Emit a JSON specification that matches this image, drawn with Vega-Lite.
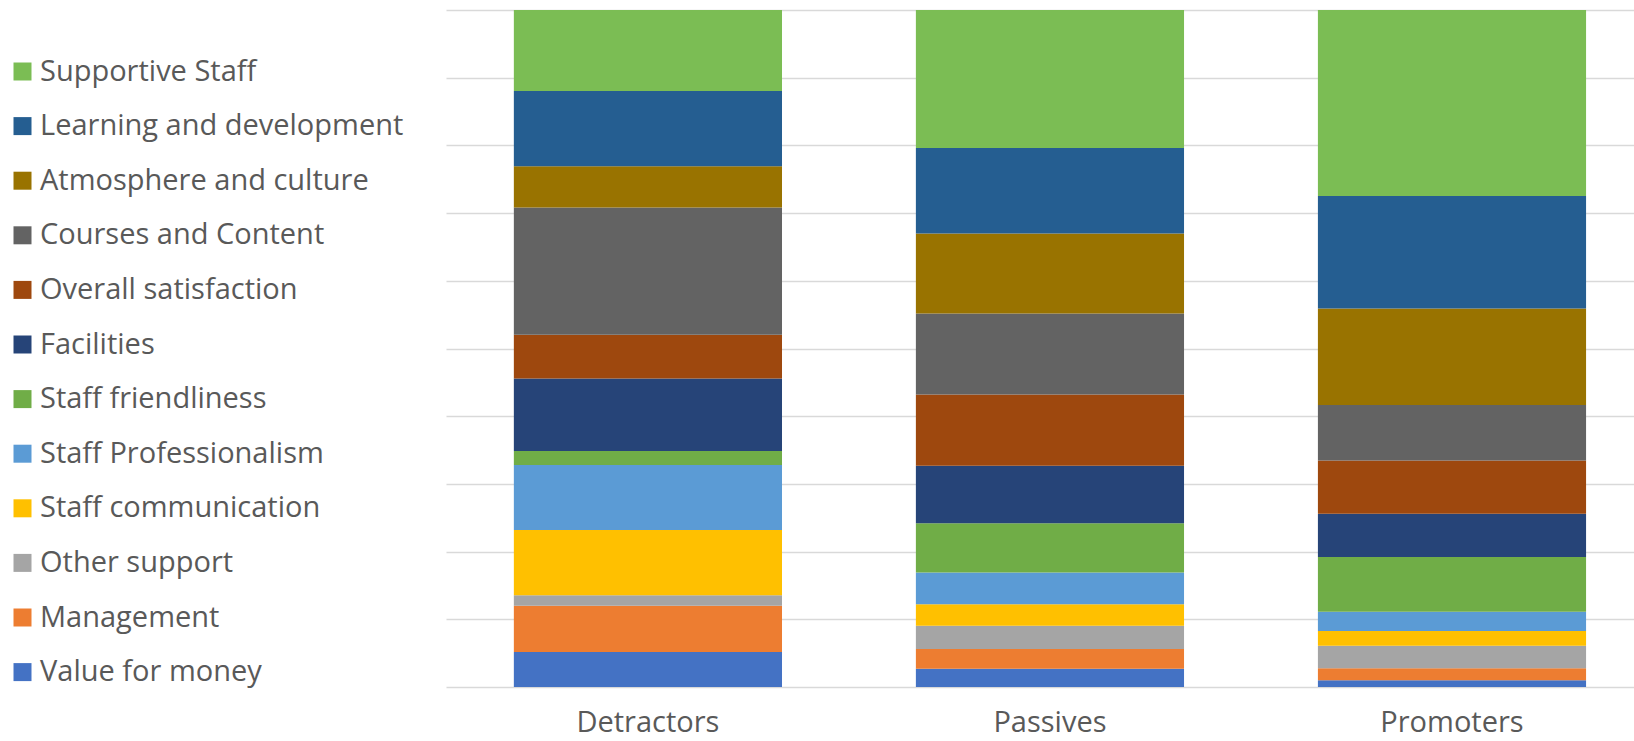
{
  "$schema": "https://vega.github.io/schema/vega-lite/v6.json",
  "width": 1188,
  "height": 677,
  "autosize": {"type": "none"},
  "padding": {"left": 446, "top": 10, "right": 0, "bottom": 54},
  "background": "white",
  "config": {
    "view": {"stroke": null},
    "font": "Open Sans",
    "axis": {"labelColor": "#595959", "labelFont": "Open Sans"},
    "legend": {"labelColor": "#595959", "labelFont": "Open Sans"}
  },
  "data": {
    "values": [
      {"group": "Detractors", "category": "Value for money", "idx": 1, "pct": 5.17},
      {"group": "Detractors", "category": "Management", "idx": 2, "pct": 6.83},
      {"group": "Detractors", "category": "Other support", "idx": 3, "pct": 1.54},
      {"group": "Detractors", "category": "Staff communication", "idx": 4, "pct": 9.64},
      {"group": "Detractors", "category": "Staff Professionalism", "idx": 5, "pct": 9.6},
      {"group": "Detractors", "category": "Staff friendliness", "idx": 6, "pct": 2.07},
      {"group": "Detractors", "category": "Facilities", "idx": 7, "pct": 10.73},
      {"group": "Detractors", "category": "Overall satisfaction", "idx": 8, "pct": 6.44},
      {"group": "Detractors", "category": "Courses and Content", "idx": 9, "pct": 18.81},
      {"group": "Detractors", "category": "Atmosphere and culture", "idx": 10, "pct": 6.1},
      {"group": "Detractors", "category": "Learning and development", "idx": 11, "pct": 11.12},
      {"group": "Detractors", "category": "Supportive Staff", "idx": 12, "pct": 11.95},
      {"group": "Passives", "category": "Value for money", "idx": 1, "pct": 2.7},
      {"group": "Passives", "category": "Management", "idx": 2, "pct": 2.91},
      {"group": "Passives", "category": "Other support", "idx": 3, "pct": 3.44},
      {"group": "Passives", "category": "Staff communication", "idx": 4, "pct": 3.16},
      {"group": "Passives", "category": "Staff Professionalism", "idx": 5, "pct": 4.72},
      {"group": "Passives", "category": "Staff friendliness", "idx": 6, "pct": 7.24},
      {"group": "Passives", "category": "Facilities", "idx": 7, "pct": 8.5},
      {"group": "Passives", "category": "Overall satisfaction", "idx": 8, "pct": 10.55},
      {"group": "Passives", "category": "Courses and Content", "idx": 9, "pct": 11.95},
      {"group": "Passives", "category": "Atmosphere and culture", "idx": 10, "pct": 11.82},
      {"group": "Passives", "category": "Learning and development", "idx": 11, "pct": 12.64},
      {"group": "Passives", "category": "Supportive Staff", "idx": 12, "pct": 20.37},
      {"group": "Promoters", "category": "Value for money", "idx": 1, "pct": 0.99},
      {"group": "Promoters", "category": "Management", "idx": 2, "pct": 1.77},
      {"group": "Promoters", "category": "Other support", "idx": 3, "pct": 3.34},
      {"group": "Promoters", "category": "Staff communication", "idx": 4, "pct": 2.17},
      {"group": "Promoters", "category": "Staff Professionalism", "idx": 5, "pct": 2.85},
      {"group": "Promoters", "category": "Staff friendliness", "idx": 6, "pct": 8.07},
      {"group": "Promoters", "category": "Facilities", "idx": 7, "pct": 6.4},
      {"group": "Promoters", "category": "Overall satisfaction", "idx": 8, "pct": 7.88},
      {"group": "Promoters", "category": "Courses and Content", "idx": 9, "pct": 8.17},
      {"group": "Promoters", "category": "Atmosphere and culture", "idx": 10, "pct": 14.27},
      {"group": "Promoters", "category": "Learning and development", "idx": 11, "pct": 16.63},
      {"group": "Promoters", "category": "Supportive Staff", "idx": 12, "pct": 27.46}
    ]
  },
  "mark": {"type": "bar"},
  "encoding": {
    "x": {
      "field": "group",
      "type": "nominal",
      "sort": ["Detractors", "Passives", "Promoters"],
      "scale": {"paddingInner": 0.333, "paddingOuter": 0.144, "align": 0.586},
      "axis": {
        "title": null,
        "labelAngle": 0,
        "labelFontSize": 29,
        "labelPadding": 21,
        "ticks": false,
        "domain": false
      }
    },
    "y": {
      "field": "pct",
      "type": "quantitative",
      "stack": "normalize",
      "scale": {"domain": [0, 1], "nice": false},
      "axis": {
        "title": null,
        "labels": false,
        "ticks": false,
        "domain": false,
        "grid": true,
        "gridColor": "#D9D9D9",
        "gridWidth": 1.5,
        "values": [0, 0.1, 0.2, 0.3, 0.4, 0.5, 0.6, 0.7, 0.8, 0.9, 1.0]
      }
    },
    "order": {"field": "idx", "type": "quantitative"},
    "color": {
      "field": "category",
      "type": "nominal",
      "scale": {
        "domain": ["Supportive Staff", "Learning and development", "Atmosphere and culture", "Courses and Content", "Overall satisfaction", "Facilities", "Staff friendliness", "Staff Professionalism", "Staff communication", "Other support", "Management", "Value for money"],
        "range": ["#7BBD54", "#255E91", "#997300", "#636363", "#9E480E", "#264478", "#70AD47", "#5B9BD5", "#FFC000", "#A5A5A5", "#ED7D31", "#4472C4"]
      },
      "legend": {
        "title": null,
        "orient": "none",
        "legendX": -438,
        "legendY": 47,
        "padding": 0,
        "symbolType": "square",
        "symbolSize": 324,
        "symbolStrokeWidth": 0,
        "symbolOpacity": 1,
        "labelFontSize": 29,
        "labelOffset": 3,
        "rowPadding": 24.6,
        "labelLimit": 500
      }
    }
  }
}
